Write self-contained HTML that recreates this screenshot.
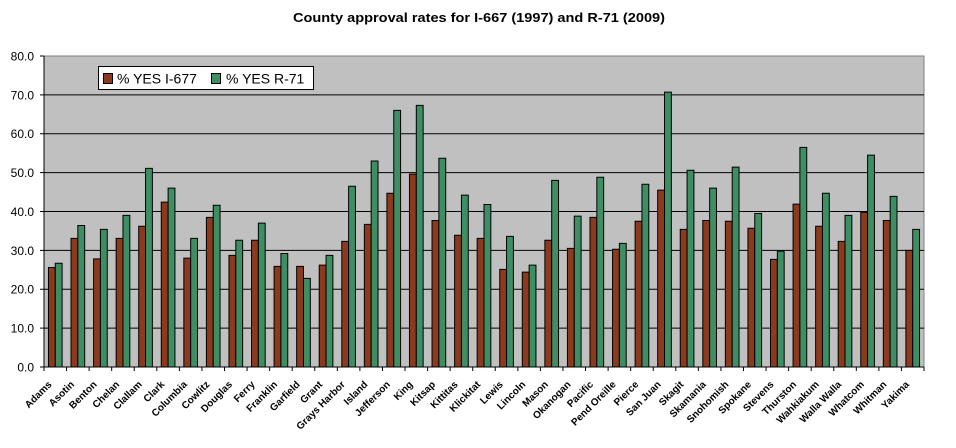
<!DOCTYPE html>
<html><head><meta charset="utf-8"><style>
html,body{margin:0;padding:0;background:#fff;}
svg{display:block;}
text{font-family:"Liberation Sans",Arial,sans-serif;}
.b{fill:#8B3A1E;stroke:#000;stroke-width:1;}
.g{fill:#3E8E64;stroke:#000;stroke-width:1;}
.xl{font-size:10px;font-weight:bold;text-anchor:end;}
.yl{font-size:12px;text-anchor:end;}
</style></head><body>
<svg width="956" height="448" viewBox="0 0 956 448" xmlns="http://www.w3.org/2000/svg">
<rect width="956" height="448" fill="#fff"/>
<text x="479" y="22" font-size="12.5" font-weight="bold" text-anchor="middle" textLength="372" lengthAdjust="spacingAndGlyphs">County approval rates for I-667 (1997) and R-71 (2009)</text>
<!-- plot area -->
<rect x="44" y="56" width="880" height="311" fill="#C0C0C0" stroke="#808080" stroke-width="1"/>
<g stroke="#000" stroke-width="1">
<line x1="44" y1="94.9" x2="924" y2="94.9"/>
<line x1="44" y1="133.75" x2="924" y2="133.75"/>
<line x1="44" y1="172.6" x2="924" y2="172.6"/>
<line x1="44" y1="211.5" x2="924" y2="211.5"/>
<line x1="44" y1="250.4" x2="924" y2="250.4"/>
<line x1="44" y1="289.25" x2="924" y2="289.25"/>
<line x1="44" y1="328.1" x2="924" y2="328.1"/>
</g>
<!-- bars -->
<g transform="translate(44,367) scale(22.5641,-3.8875)">
<g class="b" vector-effect="non-scaling-stroke">
<rect vector-effect="non-scaling-stroke" x="0.197" y="0" width="0.303" height="25.6"/>
<rect vector-effect="non-scaling-stroke" x="1.197" y="0" width="0.303" height="33.1"/>
<rect vector-effect="non-scaling-stroke" x="2.197" y="0" width="0.303" height="27.8"/>
<rect vector-effect="non-scaling-stroke" x="3.197" y="0" width="0.303" height="33.1"/>
<rect vector-effect="non-scaling-stroke" x="4.197" y="0" width="0.303" height="36.2"/>
<rect vector-effect="non-scaling-stroke" x="5.197" y="0" width="0.303" height="42.4"/>
<rect vector-effect="non-scaling-stroke" x="6.197" y="0" width="0.303" height="28.0"/>
<rect vector-effect="non-scaling-stroke" x="7.197" y="0" width="0.303" height="38.5"/>
<rect vector-effect="non-scaling-stroke" x="8.197" y="0" width="0.303" height="28.7"/>
<rect vector-effect="non-scaling-stroke" x="9.197" y="0" width="0.303" height="32.6"/>
<rect vector-effect="non-scaling-stroke" x="10.197" y="0" width="0.303" height="25.9"/>
<rect vector-effect="non-scaling-stroke" x="11.197" y="0" width="0.303" height="25.9"/>
<rect vector-effect="non-scaling-stroke" x="12.197" y="0" width="0.303" height="26.2"/>
<rect vector-effect="non-scaling-stroke" x="13.197" y="0" width="0.303" height="32.3"/>
<rect vector-effect="non-scaling-stroke" x="14.197" y="0" width="0.303" height="36.7"/>
<rect vector-effect="non-scaling-stroke" x="15.197" y="0" width="0.303" height="44.7"/>
<rect vector-effect="non-scaling-stroke" x="16.197" y="0" width="0.303" height="49.6"/>
<rect vector-effect="non-scaling-stroke" x="17.197" y="0" width="0.303" height="37.7"/>
<rect vector-effect="non-scaling-stroke" x="18.197" y="0" width="0.303" height="33.9"/>
<rect vector-effect="non-scaling-stroke" x="19.197" y="0" width="0.303" height="33.1"/>
<rect vector-effect="non-scaling-stroke" x="20.197" y="0" width="0.303" height="25.1"/>
<rect vector-effect="non-scaling-stroke" x="21.197" y="0" width="0.303" height="24.4"/>
<rect vector-effect="non-scaling-stroke" x="22.197" y="0" width="0.303" height="32.6"/>
<rect vector-effect="non-scaling-stroke" x="23.197" y="0" width="0.303" height="30.5"/>
<rect vector-effect="non-scaling-stroke" x="24.197" y="0" width="0.303" height="38.5"/>
<rect vector-effect="non-scaling-stroke" x="25.197" y="0" width="0.303" height="30.3"/>
<rect vector-effect="non-scaling-stroke" x="26.197" y="0" width="0.303" height="37.5"/>
<rect vector-effect="non-scaling-stroke" x="27.197" y="0" width="0.303" height="45.5"/>
<rect vector-effect="non-scaling-stroke" x="28.197" y="0" width="0.303" height="35.4"/>
<rect vector-effect="non-scaling-stroke" x="29.197" y="0" width="0.303" height="37.7"/>
<rect vector-effect="non-scaling-stroke" x="30.197" y="0" width="0.303" height="37.5"/>
<rect vector-effect="non-scaling-stroke" x="31.197" y="0" width="0.303" height="35.7"/>
<rect vector-effect="non-scaling-stroke" x="32.197" y="0" width="0.303" height="27.7"/>
<rect vector-effect="non-scaling-stroke" x="33.197" y="0" width="0.303" height="41.9"/>
<rect vector-effect="non-scaling-stroke" x="34.197" y="0" width="0.303" height="36.2"/>
<rect vector-effect="non-scaling-stroke" x="35.197" y="0" width="0.303" height="32.3"/>
<rect vector-effect="non-scaling-stroke" x="36.197" y="0" width="0.303" height="39.8"/>
<rect vector-effect="non-scaling-stroke" x="37.197" y="0" width="0.303" height="37.7"/>
<rect vector-effect="non-scaling-stroke" x="38.197" y="0" width="0.303" height="30.0"/>
</g>
<g class="g">
<rect vector-effect="non-scaling-stroke" x="0.5" y="0" width="0.303" height="26.7"/>
<rect vector-effect="non-scaling-stroke" x="1.5" y="0" width="0.303" height="36.4"/>
<rect vector-effect="non-scaling-stroke" x="2.5" y="0" width="0.303" height="35.4"/>
<rect vector-effect="non-scaling-stroke" x="3.5" y="0" width="0.303" height="39.0"/>
<rect vector-effect="non-scaling-stroke" x="4.5" y="0" width="0.303" height="51.1"/>
<rect vector-effect="non-scaling-stroke" x="5.5" y="0" width="0.303" height="46.0"/>
<rect vector-effect="non-scaling-stroke" x="6.5" y="0" width="0.303" height="33.1"/>
<rect vector-effect="non-scaling-stroke" x="7.5" y="0" width="0.303" height="41.6"/>
<rect vector-effect="non-scaling-stroke" x="8.5" y="0" width="0.303" height="32.6"/>
<rect vector-effect="non-scaling-stroke" x="9.5" y="0" width="0.303" height="37.0"/>
<rect vector-effect="non-scaling-stroke" x="10.5" y="0" width="0.303" height="29.2"/>
<rect vector-effect="non-scaling-stroke" x="11.5" y="0" width="0.303" height="22.8"/>
<rect vector-effect="non-scaling-stroke" x="12.5" y="0" width="0.303" height="28.7"/>
<rect vector-effect="non-scaling-stroke" x="13.5" y="0" width="0.303" height="46.5"/>
<rect vector-effect="non-scaling-stroke" x="14.5" y="0" width="0.303" height="53.0"/>
<rect vector-effect="non-scaling-stroke" x="15.5" y="0" width="0.303" height="66.0"/>
<rect vector-effect="non-scaling-stroke" x="16.5" y="0" width="0.303" height="67.3"/>
<rect vector-effect="non-scaling-stroke" x="17.5" y="0" width="0.303" height="53.7"/>
<rect vector-effect="non-scaling-stroke" x="18.5" y="0" width="0.303" height="44.2"/>
<rect vector-effect="non-scaling-stroke" x="19.5" y="0" width="0.303" height="41.8"/>
<rect vector-effect="non-scaling-stroke" x="20.5" y="0" width="0.303" height="33.6"/>
<rect vector-effect="non-scaling-stroke" x="21.5" y="0" width="0.303" height="26.2"/>
<rect vector-effect="non-scaling-stroke" x="22.5" y="0" width="0.303" height="48.0"/>
<rect vector-effect="non-scaling-stroke" x="23.5" y="0" width="0.303" height="38.8"/>
<rect vector-effect="non-scaling-stroke" x="24.5" y="0" width="0.303" height="48.8"/>
<rect vector-effect="non-scaling-stroke" x="25.5" y="0" width="0.303" height="31.8"/>
<rect vector-effect="non-scaling-stroke" x="26.5" y="0" width="0.303" height="47.0"/>
<rect vector-effect="non-scaling-stroke" x="27.5" y="0" width="0.303" height="70.7"/>
<rect vector-effect="non-scaling-stroke" x="28.5" y="0" width="0.303" height="50.6"/>
<rect vector-effect="non-scaling-stroke" x="29.5" y="0" width="0.303" height="46.0"/>
<rect vector-effect="non-scaling-stroke" x="30.5" y="0" width="0.303" height="51.4"/>
<rect vector-effect="non-scaling-stroke" x="31.5" y="0" width="0.303" height="39.5"/>
<rect vector-effect="non-scaling-stroke" x="32.5" y="0" width="0.303" height="29.8"/>
<rect vector-effect="non-scaling-stroke" x="33.5" y="0" width="0.303" height="56.5"/>
<rect vector-effect="non-scaling-stroke" x="34.5" y="0" width="0.303" height="44.7"/>
<rect vector-effect="non-scaling-stroke" x="35.5" y="0" width="0.303" height="39.0"/>
<rect vector-effect="non-scaling-stroke" x="36.5" y="0" width="0.303" height="54.5"/>
<rect vector-effect="non-scaling-stroke" x="37.5" y="0" width="0.303" height="43.9"/>
<rect vector-effect="non-scaling-stroke" x="38.5" y="0" width="0.303" height="35.4"/>
</g>
</g>
<!-- axes -->
<g stroke="#000" stroke-width="1">
<line x1="44" y1="56" x2="44" y2="367.5"/>
<line x1="40" y1="367" x2="924" y2="367"/>
<line x1="40" y1="56" x2="44" y2="56"/>
<line x1="40" y1="94.9" x2="44" y2="94.9"/>
<line x1="40" y1="133.75" x2="44" y2="133.75"/>
<line x1="40" y1="172.6" x2="44" y2="172.6"/>
<line x1="40" y1="211.5" x2="44" y2="211.5"/>
<line x1="40" y1="250.4" x2="44" y2="250.4"/>
<line x1="40" y1="289.25" x2="44" y2="289.25"/>
<line x1="40" y1="328.1" x2="44" y2="328.1"/>
</g>
<g transform="translate(44,367) scale(22.5641,1)" stroke="#000">
<path vector-effect="non-scaling-stroke" d="M0,0V4M1,0V4M2,0V4M3,0V4M4,0V4M5,0V4M6,0V4M7,0V4M8,0V4M9,0V4M10,0V4M11,0V4M12,0V4M13,0V4M14,0V4M15,0V4M16,0V4M17,0V4M18,0V4M19,0V4M20,0V4M21,0V4M22,0V4M23,0V4M24,0V4M25,0V4M26,0V4M27,0V4M28,0V4M29,0V4M30,0V4M31,0V4M32,0V4M33,0V4M34,0V4M35,0V4M36,0V4M37,0V4M38,0V4M39,0V4"/>
</g>
<!-- y labels -->
<g class="yl">
<text x="34" y="60.5">80.0</text>
<text x="34" y="99.4">70.0</text>
<text x="34" y="138.2">60.0</text>
<text x="34" y="177.1">50.0</text>
<text x="34" y="216">40.0</text>
<text x="34" y="254.9">30.0</text>
<text x="34" y="293.7">20.0</text>
<text x="34" y="332.6">10.0</text>
<text x="34" y="371.5">0.0</text>
</g>
<!-- x labels -->
<g class="xl">
<text transform="translate(52.3,385) rotate(-45)">Adams</text>
<text transform="translate(74.8,385) rotate(-45)">Asotin</text>
<text transform="translate(97.4,385) rotate(-45)">Benton</text>
<text transform="translate(120.0,385) rotate(-45)">Chelan</text>
<text transform="translate(142.5,385) rotate(-45)">Clallam</text>
<text transform="translate(165.1,385) rotate(-45)">Clark</text>
<text transform="translate(187.7,385) rotate(-45)">Columbia</text>
<text transform="translate(210.2,385) rotate(-45)">Cowlitz</text>
<text transform="translate(232.8,385) rotate(-45)">Douglas</text>
<text transform="translate(255.4,385) rotate(-45)">Ferry</text>
<text transform="translate(277.9,385) rotate(-45)">Franklin</text>
<text transform="translate(300.5,385) rotate(-45)">Garfield</text>
<text transform="translate(323.0,385) rotate(-45)">Grant</text>
<text transform="translate(345.6,385) rotate(-45)">Grays Harbor</text>
<text transform="translate(368.2,385) rotate(-45)">Island</text>
<text transform="translate(390.7,385) rotate(-45)">Jefferson</text>
<text transform="translate(413.3,385) rotate(-45)">King</text>
<text transform="translate(435.9,385) rotate(-45)">Kitsap</text>
<text transform="translate(458.4,385) rotate(-45)">Kittitas</text>
<text transform="translate(481.0,385) rotate(-45)">Klickitat</text>
<text transform="translate(503.6,385) rotate(-45)">Lewis</text>
<text transform="translate(526.1,385) rotate(-45)">Lincoln</text>
<text transform="translate(548.7,385) rotate(-45)">Mason</text>
<text transform="translate(571.3,385) rotate(-45)">Okanogan</text>
<text transform="translate(593.8,385) rotate(-45)">Pacific</text>
<text transform="translate(616.4,385) rotate(-45)">Pend Oreille</text>
<text transform="translate(639.0,385) rotate(-45)">Pierce</text>
<text transform="translate(661.5,385) rotate(-45)">San Juan</text>
<text transform="translate(684.1,385) rotate(-45)">Skagit</text>
<text transform="translate(706.6,385) rotate(-45)">Skamania</text>
<text transform="translate(729.2,385) rotate(-45)">Snohomish</text>
<text transform="translate(751.8,385) rotate(-45)">Spokane</text>
<text transform="translate(774.3,385) rotate(-45)">Stevens</text>
<text transform="translate(796.9,385) rotate(-45)">Thurston</text>
<text transform="translate(819.5,385) rotate(-45)">Wahkiakum</text>
<text transform="translate(842.0,385) rotate(-45)">Walla Walla</text>
<text transform="translate(864.6,385) rotate(-45)">Whatcom</text>
<text transform="translate(887.2,385) rotate(-45)">Whitman</text>
<text transform="translate(909.7,385) rotate(-45)">Yakima</text>
</g>
<!-- legend -->
<rect x="98.5" y="66.5" width="215" height="23" fill="#fff" stroke="#000" stroke-width="1"/>
<rect x="103.5" y="73.5" width="9" height="10" fill="#8B3A1E" stroke="#000" stroke-width="1"/>
<text x="117" y="83.5" font-size="14">% YES I-677</text>
<rect x="211.5" y="73.5" width="9" height="10" fill="#3E8E64" stroke="#000" stroke-width="1"/>
<text x="226" y="83.5" font-size="14">% YES R-71</text>
</svg>
</body></html>
